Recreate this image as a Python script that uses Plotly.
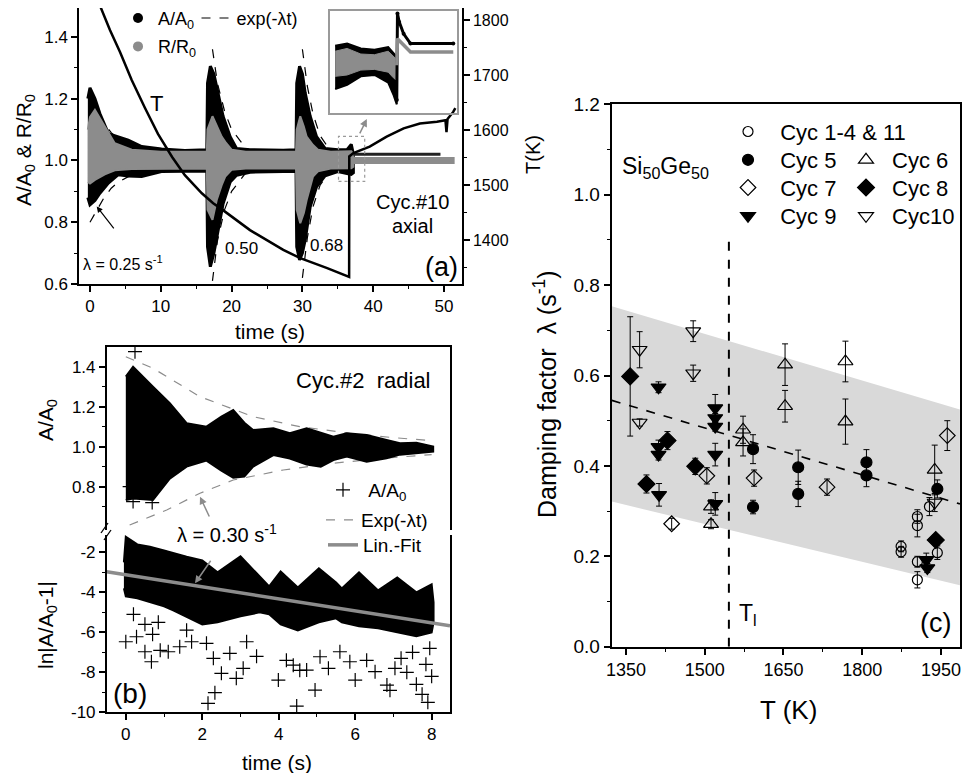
import plotly.graph_objects as go

# The page body has an 8 px margin, so the figure is drawn 8 px in from the window edge;
# the figure is sized so that the page does not need scrollbars.
OFF = 8
W, H = 962, 765
FONT = "Liberation Sans, Arial, Helvetica, sans-serif"
GRAY = "#8c8c8c"
NB = "\u00a0"

# ================= Panel (a): Cyc.#10 axial =================
a_black_t = [-0.3, 0.0, 0.7, 1.4, 2.6, 4.0, 5.4, 7.3, 10.1, 13.4,
             16.5, 16.6, 17.0, 17.5, 18.1, 18.8, 19.8, 20.7, 22.6, 27.3,
             29.1, 29.2, 29.6, 30.0, 30.4, 31.1, 32.0, 33.2, 35.0, 36.3,
             36.9, 37.2]
a_black_up = [1.20, 1.235, 1.20, 1.152, 1.087, 1.077, 1.066, 1.045, 1.037, 1.032,
              1.035, 1.25, 1.305, 1.28, 1.218, 1.143, 1.077, 1.039, 1.035, 1.033,
              1.035, 1.25, 1.305, 1.28, 1.218, 1.143, 1.077, 1.039, 1.035, 1.035,
              1.052, 1.02]
a_black_lo = [0.88, 0.856, 0.87, 0.894, 0.927, 0.954, 0.950, 0.948, 0.964, 0.966,
              0.966, 0.72, 0.656, 0.70, 0.78, 0.86, 0.93, 0.952, 0.962, 0.964,
              0.964, 0.72, 0.678, 0.70, 0.743, 0.85, 0.915, 0.950, 0.964, 0.958,
              0.955, 0.96]

a_gray_t = [-0.3, 0.0, 0.7, 2.1, 3.5, 5.9, 10.0, 16.5, 16.6, 17.3,
            17.9, 18.6, 19.1, 20.0, 22.0, 29.1, 29.2, 29.7, 30.2, 30.6,
            31.5, 32.2, 34.0, 36.9, 37.2]
a_gray_up = [1.10, 1.14, 1.164, 1.110, 1.056, 1.035, 1.028, 1.028, 1.10, 1.143,
             1.11, 1.077, 1.06, 1.035, 1.028, 1.028, 1.10, 1.143, 1.11, 1.077,
             1.05, 1.035, 1.028, 1.03, 1.02]
a_gray_lo = [0.93, 0.925, 0.937, 0.955, 0.968, 0.972, 0.974, 0.974, 0.84, 0.808,
             0.872, 0.92, 0.948, 0.970, 0.974, 0.974, 0.84, 0.797, 0.83, 0.872,
             0.948, 0.965, 0.974, 0.975, 0.98]

a_flatA_t = [37.2, 49.5]
a_flatA = [1.02, 1.02]
a_flatR_t = [37.2, 51.5]
a_flatR = [1.0, 1.0]

a_exp1_t = [0.0, 1.0, 2.0, 3.0, 4.0, 6.0, 8.0, 12.0, 16.0]
a_exp1_up = [1.20, 1.16, 1.12, 1.09, 1.07, 1.045, 1.03, 1.01, 1.004]
a_exp1_lo = [0.80, 0.84, 0.88, 0.91, 0.93, 0.955, 0.97, 0.99, 0.996]
a_exp2_t = [17.3, 18.0, 19.0, 20.0, 22.0, 25.0, 29.0]
a_exp2_up = [1.36, 1.25, 1.16, 1.10, 1.04, 1.01, 1.003]
a_exp2_lo = [0.61, 0.74, 0.84, 0.90, 0.96, 0.99, 0.997]
a_exp3_t = [30.0, 30.7, 31.5, 32.5, 34.0, 36.0, 37.0]
a_exp3_up = [1.36, 1.24, 1.15, 1.08, 1.03, 1.01, 1.005]
a_exp3_lo = [0.62, 0.75, 0.85, 0.92, 0.97, 0.99, 0.995]

a_T_t = [0.5, 1.41, 2.82, 4.24, 5.89, 7.77, 9.6, 11.6, 13.4, 15.8,
         17.4, 18.4, 22.6, 27.3, 29.7, 33.5, 36.6, 36.62, 37.2, 39.5,
         41.9, 44.3, 46.6, 49.0, 50.2, 50.35, 50.5, 51.3, 51.6]
a_T = [1855, 1825, 1782, 1742, 1691, 1640, 1593, 1551, 1518, 1485,
       1467, 1458, 1418, 1382, 1367, 1349, 1333, 1552, 1558, 1570,
       1588, 1603, 1612, 1615, 1618, 1596, 1620, 1633, 1640]

# inset of panel (a)
in_band_t = [35.25, 35.6, 36.0, 36.4, 36.8, 36.95, 37.05]
in_black_up = [1.028, 1.031, 1.024, 1.022, 1.026, 1.018, 1.012]
in_black_lo = [0.966, 0.972, 0.984, 0.986, 0.975, 0.958, 0.944]
in_gray_up = [1.020, 1.024, 1.016, 1.015, 1.020, 1.012, 1.008]
in_gray_lo = [0.984, 0.986, 0.993, 0.994, 0.990, 0.982, 0.978]
in_A_t = [37.05, 37.07, 37.12, 37.25, 37.45, 38.7]
in_A = [0.95, 1.074, 1.062, 1.045, 1.031, 1.031]
in_R_t = [37.05, 37.07, 37.45, 38.7]
in_R = [1.0, 1.038, 1.019, 1.019]

# ================= Panel (b): Cyc.#2 radial =================
b_t = [0.0, 0.19, 0.71, 1.15, 1.59, 2.11, 2.5, 2.81, 3.1, 3.33,
       3.86, 4.29, 4.73, 5.1, 5.43, 5.78, 6.3, 6.82, 7.17, 7.6, 8.04]
b_up = [1.35, 1.40, 1.30, 1.217, 1.117, 1.10, 1.15, 1.183, 1.12, 1.083,
        1.092, 1.067, 1.092, 1.07, 1.05, 1.067, 1.058, 1.033, 1.017, 1.02, 1.0]
b_lo = [0.733, 0.74, 0.733, 0.84, 0.90, 0.93, 0.88, 0.845, 0.85, 0.90,
        0.958, 0.94, 0.91, 0.90, 0.933, 0.95, 0.925, 0.942, 0.96, 0.967, 0.975]
b_out_t = [0.24, 0.1, 0.19, 0.69]
b_out_y = [1.475, 0.80, 0.725, 0.72]

b_expU_t = [0.0, 0.71, 1.94, 3.33, 4.55, 5.86, 7.0, 8.0]
b_expU = [1.45, 1.392, 1.25, 1.15, 1.10, 1.067, 1.045, 1.03]
b_expL_t = [0.1, 1.07, 1.94, 2.81, 4.12, 5.43, 6.74, 8.0]
b_expL = [0.608, 0.683, 0.767, 0.833, 0.883, 0.917, 0.942, 0.96]

c_t = [-0.05, 0.0, 0.3, 0.63, 1.0, 1.24, 1.59, 2.0, 2.4, 3.0,
       3.5, 3.75, 4.05, 4.5, 5.05, 5.5, 5.65, 6.1, 6.6, 7.1,
       7.6, 8.0, 8.05]
c_up = [-2.5, -1.22, -1.6, -1.72, -1.9, -2.04, -2.22, -2.4, -3.0, -2.2,
        -3.2, -3.7, -2.95, -3.75, -2.8, -3.5, -3.8, -3.0, -3.9, -3.25,
        -4.0, -3.6, -4.5]
c_lo = [-3.8, -4.2, -4.3, -4.5, -4.7, -4.9, -5.2, -5.6, -5.5, -5.2,
        -5.0, -5.1, -5.6, -5.9, -5.5, -5.3, -5.5, -5.7, -5.8, -6.0,
        -6.2, -6.0, -5.5]
c_sc_t = [0.0, 0.28, 0.5, 0.67, 0.2, 0.5, 0.85, 0.7, 1.11, 0.9,
          1.41, 1.72, 1.59, 2.15, 2.33, 2.5, 2.29, 2.11, 2.89, 3.07,
          3.16, 3.42, 2.72, 3.99, 4.2, 4.38, 4.47, 4.55, 4.73, 4.95,
          5.3, 5.08, 5.6, 6.0, 5.86, 6.52, 6.3, 6.83, 6.91, 7.04,
          7.2, 7.35, 7.5, 7.6, 7.75, 7.9, 8.0, 7.85, 7.95]
c_sc_y = [-6.47, -6.22, -6.97, -7.47, -5.1, -5.6, -5.5, -6.1, -6.97, -6.9,
          -6.72, -6.47, -5.89, -9.55, -9.02, -8.05, -7.3, -6.55, -8.3, -7.8,
          -6.47, -7.2, -7.05, -8.39, -7.4, -7.64, -9.69, -7.9, -7.89, -8.89,
          -7.8, -7.22, -6.97, -8.39, -7.47, -7.97, -7.4, -8.64, -8.9, -7.8,
          -7.3, -8.0, -7.0, -8.6, -9.1, -9.5, -8.2, -7.6, -6.8]
fit_t = [-0.5, 8.48]
fit_y = [-2.97, -5.67]

# ================= Panel (c): damping factor =================
band_T = [1323, 1986]
band_lo = [0.321, 0.136]
band_hi = [0.753, 0.525]
trend_T = [1323, 1986]
trend_lam = [0.545, 0.316]
T_liq = 1546
T_liq_lam = [0.0, 0.9]

cyc = {
    "Cyc 1-4 & 11": dict(T=[1874, 1874, 1905, 1905, 1905, 1905, 1928, 1943],
                         lam=[0.222, 0.210, 0.288, 0.268, 0.188, 0.148, 0.310, 0.208],
                         err=[0.012, 0.012, 0.015, 0.025, 0.012, 0.018, 0.02, 0.015]),
    "Cyc 5": dict(T=[1592, 1592, 1678, 1678, 1808, 1808, 1943],
                  lam=[0.437, 0.309, 0.397, 0.338, 0.408, 0.379, 0.349],
                  err=[0.032, 0.015, 0.038, 0.028, 0.028, 0.025, 0.02]),
    "Cyc 6": dict(T=[1512, 1512, 1573, 1573, 1653, 1653, 1768, 1768, 1938],
                  lam=[0.310, 0.271, 0.480, 0.452, 0.624, 0.532, 0.631, 0.498, 0.391],
                  err=[0.015, 0.01, 0.03, 0.03, 0.046, 0.035, 0.045, 0.05, 0.055]),
    "Cyc 7": dict(T=[1437, 1504, 1594, 1733, 1962],
                  lam=[0.272, 0.378, 0.373, 0.353, 0.467],
                  err=[0.012, 0.018, 0.018, 0.018, 0.033]),
    "Cyc 8": dict(T=[1358, 1389, 1429, 1482, 1940],
                  lam=[0.598, 0.360, 0.456, 0.399, 0.236],
                  err=[0.132, 0.02, 0.02, 0.018, 0.012]),
    "Cyc 9": dict(T=[1412, 1412, 1412, 1413, 1520, 1520, 1520, 1520, 1520, 1922, 1924],
                  lam=[0.574, 0.442, 0.425, 0.336, 0.528, 0.506, 0.487, 0.425, 0.316, 0.192, 0.174],
                  err=[0.012, 0.015, 0.012, 0.025, 0.03, 0.01, 0.01, 0.025, 0.025, 0.015, 0.01]),
    "Cyc10": dict(T=[1376, 1376, 1478, 1478, 1938],
                  lam=[0.657, 0.496, 0.698, 0.605, 0.319],
                  err=[0.04, 0.008, 0.023, 0.018, 0.02]),
}
# symbol, size, legend id, legend-marker x, y (px), spaces before the name
cyc_style = {
    "Cyc 1-4 & 11": ("circle-open", 10, "legend7", 748, 131.7, 2),
    "Cyc 5": ("circle", 11, "legend8", 748, 160, 2),
    "Cyc 7": ("diamond-open", 12, "legend9", 748, 187.7, 2),
    "Cyc 9": ("triangle-down", 13, "legend10", 748, 216, 2),
    "Cyc 6": ("triangle-up-open", 13, "legend11", 866, 160, 1),
    "Cyc 8": ("diamond", 13, "legend12", 866, 187.7, 1),
    "Cyc10": ("triangle-down-open", 13, "legend13", 866, 216, 1),
}


def px(x):
    return (x - OFF) / W


def py(y):
    return 1 - (y - OFF) / H


fig = go.Figure()

# ---------- panel (a) traces ----------
for et, eu, el in [(a_exp1_t, a_exp1_up, a_exp1_lo), (a_exp2_t, a_exp2_up, a_exp2_lo),
                   (a_exp3_t, a_exp3_up, a_exp3_lo)]:
    for ey in (eu, el):
        fig.add_trace(go.Scatter(x=et, y=ey, mode="lines", line=dict(color="black", width=1.2, dash="dash"),
                                 showlegend=False, xaxis="x", yaxis="y"))

fig.add_trace(go.Scatter(x=a_black_t + a_black_t[::-1], y=a_black_up + a_black_lo[::-1],
                         fill="toself", fillcolor="black", mode="lines",
                         line=dict(color="black", width=3), showlegend=False, xaxis="x", yaxis="y"))
fig.add_trace(go.Scatter(x=a_gray_t + a_gray_t[::-1], y=a_gray_up + a_gray_lo[::-1],
                         fill="toself", fillcolor=GRAY, mode="lines",
                         line=dict(color=GRAY, width=2), showlegend=False, xaxis="x", yaxis="y"))
fig.add_trace(go.Scatter(x=a_flatR_t, y=a_flatR, mode="lines", line=dict(color=GRAY, width=7),
                         showlegend=False, xaxis="x", yaxis="y"))
fig.add_trace(go.Scatter(x=a_flatA_t, y=a_flatA, mode="lines", line=dict(color="#222222", width=3),
                         showlegend=False, xaxis="x", yaxis="y"))
fig.add_trace(go.Scatter(x=a_T_t, y=a_T, mode="lines", line=dict(color="black", width=2.5),
                         showlegend=False, xaxis="x", yaxis="y2"))

# legend entries (a)
fig.add_trace(go.Scatter(x=[None], y=[None], mode="markers", name="A/A<sub>0</sub>",
                         marker=dict(color="black", size=10), legend="legend", xaxis="x", yaxis="y"))
fig.add_trace(go.Scatter(x=[None], y=[None], mode="markers", name="R/R<sub>0</sub>",
                         marker=dict(color=GRAY, size=10), legend="legend2", xaxis="x", yaxis="y"))
fig.add_trace(go.Scatter(x=[None], y=[None], mode="lines", name="exp(-\u03bbt)",
                         line=dict(color="black", width=1.2, dash="dash"), legend="legend3", xaxis="x", yaxis="y"))

# inset
fig.add_trace(go.Scatter(x=in_band_t + in_band_t[::-1], y=in_black_up + in_black_lo[::-1],
                         fill="toself", fillcolor="black", mode="lines", line=dict(color="black", width=2),
                         showlegend=False, xaxis="x3", yaxis="y3"))
fig.add_trace(go.Scatter(x=in_band_t + in_band_t[::-1], y=in_gray_up + in_gray_lo[::-1],
                         fill="toself", fillcolor=GRAY, mode="lines", line=dict(color=GRAY, width=1),
                         showlegend=False, xaxis="x3", yaxis="y3"))
fig.add_trace(go.Scatter(x=in_A_t, y=in_A, mode="lines+markers", line=dict(color="black", width=3),
                         marker=dict(size=4, color="black"), showlegend=False, xaxis="x3", yaxis="y3"))
fig.add_trace(go.Scatter(x=in_R_t, y=in_R, mode="lines", line=dict(color=GRAY, width=3.5),
                         showlegend=False, xaxis="x3", yaxis="y3"))

# ---------- panel (b) traces ----------
CROSS = dict(symbol="cross-thin-open", size=10, color="black", line=dict(width=1.2, color="black"))
fig.add_trace(go.Scatter(x=b_expU_t, y=b_expU, mode="lines", line=dict(color=GRAY, width=1.2, dash="dash"),
                         showlegend=False, xaxis="x4", yaxis="y4"))
fig.add_trace(go.Scatter(x=b_expL_t, y=b_expL, mode="lines", line=dict(color=GRAY, width=1.2, dash="dash"),
                         showlegend=False, xaxis="x4", yaxis="y4"))
fig.add_trace(go.Scatter(x=b_t + b_t[::-1], y=b_up + b_lo[::-1], fill="toself", fillcolor="black",
                         mode="lines", line=dict(color="black", width=2), showlegend=False,
                         xaxis="x4", yaxis="y4"))
fig.add_trace(go.Scatter(x=b_out_t, y=b_out_y, mode="markers", marker=CROSS,
                         showlegend=False, xaxis="x4", yaxis="y4"))

fig.add_trace(go.Scatter(x=c_t + c_t[::-1], y=c_up + c_lo[::-1], fill="toself", fillcolor="black",
                         mode="lines", line=dict(color="black", width=2), showlegend=False,
                         xaxis="x5", yaxis="y5"))
fig.add_trace(go.Scatter(x=c_sc_t, y=c_sc_y, mode="markers", marker=CROSS,
                         showlegend=False, xaxis="x5", yaxis="y5"))
fig.add_trace(go.Scatter(x=fit_t, y=fit_y, mode="lines", line=dict(color=GRAY, width=3.5),
                         showlegend=False, xaxis="x5", yaxis="y5"))

# legend entries (b)
fig.add_trace(go.Scatter(x=[None], y=[None], mode="markers", name=NB + "A/A<sub>0</sub>",
                         marker=CROSS, legend="legend4", xaxis="x4", yaxis="y4"))
fig.add_trace(go.Scatter(x=[None], y=[None], mode="lines", name="Exp(-\u03bbt)",
                         line=dict(color=GRAY, width=1.2, dash="dash"), legend="legend5", xaxis="x4", yaxis="y4"))
fig.add_trace(go.Scatter(x=[None], y=[None], mode="lines", name="Lin.-Fit",
                         line=dict(color=GRAY, width=3.5), legend="legend6", xaxis="x4", yaxis="y4"))

# ---------- panel (c) traces ----------
fig.add_trace(go.Scatter(x=band_T, y=band_lo, mode="lines", line=dict(width=0, color="#d9d9d9"),
                         showlegend=False, xaxis="x6", yaxis="y6"))
fig.add_trace(go.Scatter(x=band_T, y=band_hi, mode="lines", line=dict(width=0, color="#d9d9d9"),
                         fill="tonexty", fillcolor="#d9d9d9", showlegend=False, xaxis="x6", yaxis="y6"))
fig.add_trace(go.Scatter(x=trend_T, y=trend_lam, mode="lines", line=dict(color="black", width=1.6, dash="dash"),
                         showlegend=False, xaxis="x6", yaxis="y6"))
fig.add_trace(go.Scatter(x=[T_liq, T_liq], y=T_liq_lam, mode="lines",
                         line=dict(color="black", width=2, dash="dash"),
                         showlegend=False, xaxis="x6", yaxis="y6"))

for name, d in cyc.items():
    fig.add_trace(go.Scatter(x=d["T"], y=d["lam"], mode="markers",
                             marker=dict(size=2, color="rgba(0,0,0,0)"),
                             error_y=dict(type="data", array=d["err"], color="black", thickness=1, width=3),
                             showlegend=False, xaxis="x6", yaxis="y6"))
for name, d in cyc.items():
    sym, size, lg, _, _, nsp = cyc_style[name]
    fig.add_trace(go.Scatter(x=d["T"], y=d["lam"], mode="markers", name=NB * nsp + name,
                             marker=dict(symbol=sym, size=size, color="black", line=dict(width=1.2, color="black")),
                             legend=lg, xaxis="x6", yaxis="y6"))

# ---------- axes ----------
TICKF = dict(family=FONT, size=17, color="black")


def axis(**kw):
    base = dict(showline=True, linecolor="black", linewidth=1.5, showgrid=False, zeroline=False,
                ticks="outside", ticklen=6, tickwidth=1.5, tickcolor="black", tickfont=TICKF)
    base.update(kw)
    return base


def minor(**kw):
    base = dict(ticks="outside", ticklen=3, tickwidth=1.2, tickcolor="black")
    base.update(kw)
    return base


layout = dict(
    width=W, height=H, margin=dict(l=0, r=0, t=0, b=0, autoexpand=False),
    paper_bgcolor="white", plot_bgcolor="rgba(0,0,0,0)",
    font=dict(family=FONT, color="black"),
    # panel (a)
    xaxis=axis(domain=[px(79), px(462)], range=[-1.55, 52.54], anchor="y", mirror=True,
               tick0=0, dtick=10, minor=minor(dtick=5, tick0=0)),
    yaxis=axis(domain=[py(284), 1.0], range=[0.6, 1.4935], anchor="x", tick0=0.6, dtick=0.2,
               tickformat=".1f", minor=minor(dtick=0.1, tick0=0.6)),
    yaxis2=axis(overlaying="y", side="right", anchor="x", range=[1320, 1822], tick0=1400, dtick=100,
                minor=minor(dtick=50, tick0=1400), tickfont=dict(family=FONT, size=16, color="black")),
    # inset
    xaxis3=dict(domain=[px(330), px(456.7)], range=[35.1, 38.8], anchor="y3", showline=True, mirror=True,
                linecolor="#9a9a9a", linewidth=1.5, showticklabels=False, ticks="", showgrid=False,
                zeroline=False),
    yaxis3=dict(domain=[py(112.7), py(10.7)], range=[0.932, 1.078], anchor="x3", showline=True, mirror=True,
                linecolor="#9a9a9a", linewidth=1.5, showticklabels=False, ticks="", showgrid=False,
                zeroline=False),
    # panel (b) upper
    xaxis4=dict(domain=[px(106.7), px(450)], range=[-0.5, 8.48], anchor="y4", side="top", showline=True,
                linecolor="black", linewidth=1.5, showticklabels=False, ticks="", showgrid=False,
                zeroline=False),
    yaxis4=axis(domain=[py(530), py(346.7)], range=[0.583, 1.5], anchor="x4", mirror=True,
                tickmode="array", tickvals=[0.8, 1.0, 1.2, 1.4], ticktext=["0.8", "1.0", "1.2", "1.4"],
                minor=minor(tickmode="array", tickvals=[0.7, 0.9, 1.1, 1.3])),
    # panel (b) lower
    xaxis5=axis(domain=[px(106.7), px(450)], range=[-0.5, 8.48], anchor="y5", tick0=0, dtick=2,
                minor=minor(dtick=1, tick0=0)),
    yaxis5=axis(domain=[py(712.3), py(535)], range=[-10, -1.13], anchor="x5", mirror=True,
                tickmode="array", tickvals=[-10, -8, -6, -4, -2], ticktext=["-10", "-8", "-6", "-4", "-2"],
                minor=minor(tickmode="array", tickvals=[-9, -7, -5, -3])),
    # panel (c)
    xaxis6=axis(domain=[px(611.7), px(960)], range=[1322.8, 1986.2], anchor="y6", mirror=True, linewidth=2,
                tick0=1350, dtick=150, minor=minor(dtick=75, tick0=1350),
                tickfont=dict(family=FONT, size=18, color="black")),
    yaxis6=axis(domain=[py(646.7), py(104.3)], range=[0, 1.2], anchor="x6", mirror=True, linewidth=2,
                tick0=0, dtick=0.2, tickformat=".1f", minor=minor(dtick=0.1, tick0=0),
                tickfont=dict(family=FONT, size=19, color="black")),
)


def legend_at(xm, ym, size):
    return dict(x=px(xm - 20), y=py(ym), xanchor="left", yanchor="middle", bgcolor="rgba(0,0,0,0)",
                borderwidth=0, font=dict(family=FONT, size=size, color="black"))


layout["legend"] = legend_at(138, 18.3, 18)
layout["legend2"] = legend_at(138, 46.7, 18)
layout["legend3"] = legend_at(216.5, 18.3, 18)
layout["legend4"] = legend_at(343, 490, 19)
layout["legend5"] = legend_at(341, 520, 19)
layout["legend6"] = legend_at(343, 545, 19)
for name, (sym, size, lg, xm, ym, nsp) in cyc_style.items():
    layout[lg] = legend_at(xm, ym, 22)

fig.update_layout(**layout)


def ann(text, x, y, size, angle=0, xanchor="center", yanchor="middle"):
    fig.add_annotation(text=text, x=px(x), y=py(y), xref="paper", yref="paper", showarrow=False,
                       font=dict(family=FONT, size=size, color="black"), textangle=angle,
                       xanchor=xanchor, yanchor=yanchor)


# panel (a) texts
ann("A/A<sub>0</sub> & R/R<sub>0</sub>", 25, 150, 21, -90)
ann("time (s)", 270, 331.7, 21)
ann("T(K)", 533, 155, 20, -90)
ann("T", 156.7, 103.3, 22)
ann("\u03bb = 0.25 s<sup>-1</sup>", 123, 263, 16)
ann("0.50", 241.7, 248.3, 17)
ann("0.68", 326.7, 245, 17)
ann("Cyc.#10", 412, 202, 20)
ann("axial", 412, 226, 20)
ann("(a)", 441.7, 266.7, 27)
fig.add_annotation(x=0.95, y=0.851, ax=3.53, ay=0.775, xref="x", yref="y", axref="x", ayref="y",
                   text="", showarrow=True, arrowhead=2, arrowsize=1, arrowwidth=1.2, arrowcolor="black")
fig.add_annotation(x=39.1, y=1.134, ax=38.0, ay=1.083, xref="x", yref="y", axref="x", ayref="y",
                   text="", showarrow=True, arrowhead=2, arrowsize=1, arrowwidth=1.5, arrowcolor=GRAY)
fig.add_shape(type="rect", xref="x", yref="y", x0=35.1, x1=38.8, y0=0.932, y1=1.078,
              line=dict(color="#9a9a9a", width=1.2, dash="dot"))

# panel (b) texts
ann("Cyc.#2" + NB + NB + "radial", 433, 380, 22, xanchor="right")
ann("\u03bb = 0.30 s<sup>-1</sup>", 226.7, 533, 20)
ann("(b)", 130, 693, 28)
ann("A/A<sub>0</sub>", 47, 420, 21, -90)
ann("ln|A/A<sub>0</sub>-1|", 47, 625, 21, -90)
ann("time (s)", 276.7, 762, 21)
fig.add_annotation(x=px(200), y=py(496.7), xref="paper", yref="paper", ax=10, ay=21.3, text="",
                   showarrow=True, arrowhead=2, arrowsize=1, arrowwidth=1.5, arrowcolor=GRAY)
fig.add_annotation(x=px(195), y=py(583.3), xref="paper", yref="paper", ax=16.7, ay=-24, text="",
                   showarrow=True, arrowhead=2, arrowsize=1, arrowwidth=1.5, arrowcolor=GRAY)
for (x0, y0, x1, y1) in [(101, 533, 108, 523), (104, 540, 111, 530)]:
    fig.add_shape(type="line", xref="paper", yref="paper", x0=px(x0), y0=py(y0), x1=px(x1), y1=py(y1),
                  line=dict(color="black", width=1.3))

# panel (c) texts
ann("Damping factor" + NB + NB + "\u03bb (s<sup>-1</sup>)", 545, 394, 25, -90)
ann("T (K)", 788, 710, 26)
ann("Si<sub>50</sub>Ge<sub>50</sub>", 620, 167, 23, xanchor="left")
ann("T<sub>l</sub>", 737, 614, 23, xanchor="left")
ann("(c)", 935, 623, 27)

fig.write_html("out.html")
